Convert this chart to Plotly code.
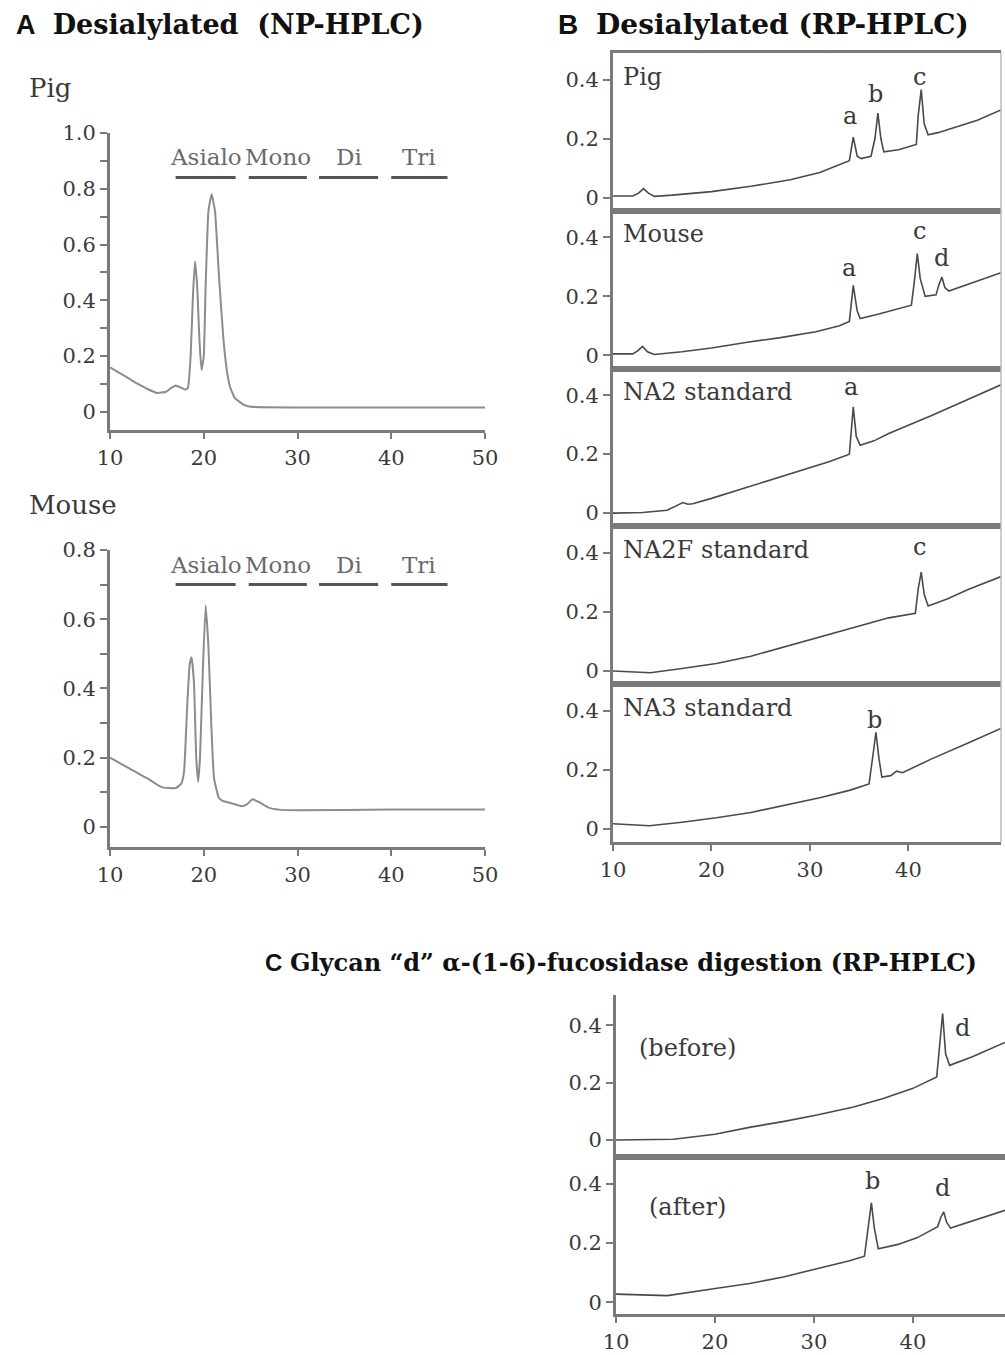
import plotly.graph_objects as go

# ---------------- data ----------------
# Panel A (NP-HPLC), retention time (min) vs absorbance
a_pig_x = [10, 11, 12, 13, 14, 15, 16, 16.5, 17, 17.5, 18, 18.3, 18.6, 18.85, 19.07, 19.3, 19.55, 19.76, 20.0, 20.2, 20.5, 20.84, 21.2, 21.6, 22.1, 22.5, 22.8, 23.3, 24.3, 25, 30, 40, 50]
a_pig_y = [0.16, 0.14, 0.12, 0.10, 0.082, 0.068, 0.072, 0.085, 0.095, 0.088, 0.08, 0.085, 0.2, 0.42, 0.54, 0.45, 0.25, 0.15, 0.2, 0.45, 0.72, 0.78, 0.72, 0.5, 0.26, 0.14, 0.09, 0.05, 0.025, 0.018, 0.016, 0.016, 0.016]

a_mouse_x = [10, 12, 14, 15.5, 17, 17.6, 17.9, 18.2, 18.5, 18.7, 18.95, 19.2, 19.4, 19.6, 19.9, 20.2, 20.5, 20.8, 21.1, 21.6, 22, 23, 24, 24.6, 25.2, 26, 27, 28, 30, 40, 50]
a_mouse_y = [0.2, 0.17, 0.14, 0.115, 0.112, 0.125, 0.16, 0.33, 0.47, 0.49, 0.42, 0.2, 0.13, 0.2, 0.45, 0.64, 0.52, 0.3, 0.14, 0.085, 0.075, 0.068, 0.06, 0.065, 0.08, 0.07, 0.055, 0.05, 0.048, 0.05, 0.05]

a_fraction_labels = ["Asialo", "Mono", "Di", "Tri"]
a_fraction_start = [17.0, 24.8, 32.3, 40.0]
a_fraction_end = [23.4, 31.0, 38.6, 46.0]

a_yticks_pig = [0, 0.2, 0.4, 0.6, 0.8, 1.0]
a_yticktext_pig = ["0", "0.2", "0.4", "0.6", "0.8", "1.0"]
a_yticks_mouse = [0, 0.2, 0.4, 0.6, 0.8]
a_yticktext_mouse = ["0", "0.2", "0.4", "0.6", "0.8"]
a_xticks = [10, 20, 30, 40, 50]

# Panel B (RP-HPLC)
b_pig_x = [10, 12, 12.6, 13.1, 13.6, 14.2, 16, 20, 24, 28, 31, 33, 34.0, 34.4, 34.8, 35.2, 36.2, 36.6, 36.9, 37.2, 37.5, 39, 40.8, 41.0, 41.3, 41.6, 42.0, 43, 45, 47, 49.4]
b_pig_y = [0.005, 0.005, 0.015, 0.03, 0.015, 0.004, 0.008, 0.02, 0.038, 0.06, 0.085, 0.11, 0.125, 0.205, 0.14, 0.132, 0.14, 0.2, 0.286, 0.2, 0.155, 0.162, 0.18, 0.28, 0.366, 0.25, 0.213, 0.22, 0.24, 0.262, 0.297]

b_mouse_x = [10, 12, 12.5, 13.0, 13.5, 14.2, 17, 20, 23.8, 27, 30.6, 33, 34.0, 34.4, 34.8, 35.1, 37, 40.3, 40.6, 40.9, 41.2, 41.7, 42.8, 43.1, 43.4, 43.7, 44.1, 46, 49.4]
b_mouse_y = [0.005, 0.005, 0.015, 0.03, 0.012, 0.003, 0.012, 0.025, 0.045, 0.06, 0.08, 0.1, 0.115, 0.237, 0.15, 0.125, 0.14, 0.17, 0.25, 0.345, 0.26, 0.2, 0.205, 0.24, 0.265, 0.23, 0.218, 0.24, 0.28]

b_na2_x = [10, 13, 15.5, 16.5, 17.1, 17.6, 18.1, 20, 23.8, 29.2, 32, 34.0, 34.2, 34.4, 34.7, 35.1, 36.5, 38, 42.3, 46, 49.4]
b_na2_y = [0.0, 0.002, 0.01, 0.025, 0.036, 0.03, 0.032, 0.05, 0.09, 0.145, 0.175, 0.2, 0.27, 0.36, 0.26, 0.23, 0.245, 0.27, 0.33, 0.385, 0.435]

b_na2f_x = [10, 13.8, 17, 20.5, 24, 27.2, 31, 34, 38, 40.7, 41.0, 41.3, 41.6, 42.0, 44, 46, 49.4]
b_na2f_y = [0.0, -0.006, 0.008, 0.025, 0.05, 0.08, 0.115, 0.145, 0.18, 0.195, 0.28, 0.335, 0.26, 0.22, 0.245, 0.275, 0.32]

b_na3_x = [10, 13.7, 17, 20.5, 24, 27.2, 31, 34, 36.0, 36.4, 36.7, 37.0, 37.3, 38.2, 38.8, 39.4, 42.3, 46, 49.4]
b_na3_y = [0.017, 0.01, 0.022, 0.037, 0.055, 0.077, 0.105, 0.13, 0.152, 0.25, 0.327, 0.24, 0.175, 0.18, 0.195, 0.19, 0.236, 0.29, 0.34]

b_panel_names = ["Pig", "Mouse", "NA2 standard", "NA2F standard", "NA3 standard"]
b_peak_labels = [["a", "b", "c"], ["a", "c", "d"], ["a"], ["c"], ["b"]]
b_peak_x = [[34.1, 36.7, 41.1], [34.0, 41.1, 43.4], [34.2], [41.1], [36.6]]
b_peak_y = [[0.275, 0.35, 0.41], [0.295, 0.42, 0.33], [0.427], [0.42], [0.37]]

# Panel C (fucosidase digestion, RP-HPLC)
c_before_x = [10, 15.8, 20, 23.6, 27, 30.3, 34, 37, 40, 42.4, 42.7, 43.0, 43.3, 43.7, 46, 49.3]
c_before_y = [0.0, 0.003, 0.02, 0.045, 0.065, 0.087, 0.115, 0.145, 0.18, 0.22, 0.33, 0.44, 0.3, 0.26, 0.29, 0.34]

c_after_x = [10, 15.2, 20.2, 23.5, 26.9, 30, 33.6, 35.1, 35.5, 35.8, 36.1, 36.5, 38.5, 40.4, 42.5, 42.8, 43.1, 43.4, 43.8, 46, 49.3]
c_after_y = [0.027, 0.022, 0.047, 0.063, 0.085, 0.11, 0.14, 0.155, 0.26, 0.335, 0.25, 0.18, 0.195, 0.217, 0.255, 0.285, 0.305, 0.27, 0.25, 0.275, 0.31]

c_panel_names = ["(before)", "(after)"]
c_peak_labels = [["d"], ["b", "d"]]
c_peak_x = [[45.0], [35.9, 43.0]]
c_peak_y = [[0.39], [0.41, 0.385]]

b_yticks = [0, 0.2, 0.4]
b_yticktext = ["0", "0.2", "0.4"]
b_xticks = [10, 20, 30, 40]

# ---------------- styling ----------------
W, H = 1005, 1355
SERIF = "DejaVu Serif"
SANS = "Liberation Sans"
AXC = "#7a7a7a"
TXT = "#3a3a3a"
TICKF = dict(family=SERIF, size=21, color=TXT)

def px(x):
    return x / W

def py(y):
    return 1 - y / H

fig = go.Figure()
layout = dict(
    template="none",
    width=W, height=H, margin=dict(l=0, r=0, t=0, b=0, pad=0, autoexpand=False),
    paper_bgcolor="white", plot_bgcolor="white", showlegend=False,
    font=dict(family=SERIF, color=TXT),
)
annotations = []
shapes = []

def add_axes(n, xdom, ydom, xr, yr, xkw, ykw):
    xa = dict(domain=[px(xdom[0]), px(xdom[1])], range=xr, anchor=f"y{n}",
              showgrid=False, zeroline=False, showline=True, linecolor=AXC,
              linewidth=3, tickfont=TICKF, fixedrange=True, automargin=False)
    ya = dict(domain=[py(ydom[1]), py(ydom[0])], range=yr, anchor=f"x{n}",
              showgrid=False, zeroline=False, showline=True, linecolor=AXC,
              linewidth=3, tickfont=TICKF, fixedrange=True, automargin=False)
    xa.update(xkw)
    ya.update(ykw)
    key = "" if n == 1 else str(n)
    layout["xaxis" + key] = xa
    layout["yaxis" + key] = ya

def ref(n):
    return ("x", "y") if n == 1 else (f"x{n}", f"y{n}")

# ----- Panel A -----
a_x_common = dict(tickvals=a_xticks, ticks="outside", ticklen=6, tickwidth=2,
                  tickcolor=AXC, ticklabelstandoff=1)
a_y_minor = dict(dtick=0.1, tick0=0, ticks="outside", ticklen=7, tickwidth=2, tickcolor=AXC)
add_axes(1, (110, 485), (133, 430), [10, 50], [-0.065, 1.0],
         a_x_common,
         dict(tickvals=a_yticks_pig, ticktext=a_yticktext_pig, ticks="outside",
              ticklen=7, tickwidth=2, tickcolor=AXC, minor=a_y_minor))
add_axes(2, (110, 485), (550, 847), [10, 50], [-0.058, 0.8],
         a_x_common,
         dict(tickvals=a_yticks_mouse, ticktext=a_yticktext_mouse, ticks="outside",
              ticklen=7, tickwidth=2, tickcolor=AXC, minor=a_y_minor))

for n, xs, ys in [(1, a_pig_x, a_pig_y), (2, a_mouse_x, a_mouse_y)]:
    xr_, yr_ = ref(n)
    fig.add_trace(go.Scatter(x=xs, y=ys, mode="lines", xaxis=xr_, yaxis=yr_,
                             line=dict(color="#8c8c8c", width=2, shape="spline", smoothing=0.4),
                             hoverinfo="skip"))

for n, bar_y, lab_y in [(1, 0.84, 0.915), (2, 0.70, 0.757)]:
    xr_, yr_ = ref(n)
    for lab, s, e in zip(a_fraction_labels, a_fraction_start, a_fraction_end):
        shapes.append(dict(type="line", xref=xr_, yref=yr_, x0=s, x1=e,
                           y0=bar_y, y1=bar_y, line=dict(color="#555555", width=3)))
        annotations.append(dict(text=lab, xref=xr_, yref=yr_, x=(s + e) / 2, y=lab_y,
                                showarrow=False, font=dict(family=SERIF, size=23, color="#6a6a6a")))

annotations.append(dict(text="Pig", xref="paper", yref="paper", x=px(27), y=py(88),
                        xanchor="left", yanchor="middle", showarrow=False,
                        font=dict(family=SERIF, size=26, color=TXT)))
annotations.append(dict(text="Mouse", xref="paper", yref="paper", x=px(27), y=py(505),
                        xanchor="left", yanchor="middle", showarrow=False,
                        font=dict(family=SERIF, size=26, color=TXT)))

# ----- Panel B -----
b_curves = [(b_pig_x, b_pig_y), (b_mouse_x, b_mouse_y), (b_na2_x, b_na2_y),
            (b_na2f_x, b_na2f_y), (b_na3_x, b_na3_y)]
b_top, b_bot = 53, 842
b_h = (b_bot - b_top) / 5
for i, (xs, ys) in enumerate(b_curves):
    n = 3 + i
    y0 = b_top + i * b_h
    y1 = y0 + b_h
    last = (i == 4)
    xkw = dict(mirror=True, tickvals=b_xticks,
               ticks="outside" if last else "", ticklen=6, tickwidth=2, tickcolor=AXC,
               showticklabels=last, ticklabelstandoff=1)
    ykw = dict(tickvals=b_yticks, ticktext=b_yticktext, ticks="outside", ticklen=7,
               tickwidth=2, tickcolor=AXC)
    add_axes(n, (613, 1001), (y0, y1), [10, 49.4], [-0.045, 0.49], xkw, ykw)
    xr_, yr_ = ref(n)
    fig.add_trace(go.Scatter(x=xs, y=ys, mode="lines", xaxis=xr_, yaxis=yr_,
                             line=dict(color="#4a4a4a", width=1.6), hoverinfo="skip"))
    annotations.append(dict(text=b_panel_names[i], xref=f"x{n} domain", yref=yr_,
                            x=0.02, y=0.41, xanchor="left", yanchor="middle",
                            showarrow=False, font=dict(family=SERIF, size=24, color=TXT)))
    for lab, lx, ly in zip(b_peak_labels[i], b_peak_x[i], b_peak_y[i]):
        annotations.append(dict(text=lab, xref=xr_, yref=yr_, x=lx, y=ly,
                                showarrow=False, font=dict(family=SERIF, size=24, color=TXT)))
    shapes.append(dict(type="line", xref=f"x{n} domain", yref=f"y{n} domain",
                       x0=1, x1=1, y0=0, y1=1, line=dict(color="#bbbbbb", width=1.5)))

# ----- Panel C -----
c_curves = [(c_before_x, c_before_y), (c_after_x, c_after_y)]
c_dom = [(995, 1157), (1157, 1314)]
c_yr = [[-0.059, 0.505], [-0.04, 0.49]]
for i, (xs, ys) in enumerate(c_curves):
    n = 8 + i
    last = (i == 1)
    xkw = dict(mirror=last, tickvals=b_xticks,
               ticks="outside" if last else "", ticklen=6, tickwidth=2, tickcolor=AXC,
               showticklabels=last, ticklabelstandoff=1)
    ykw = dict(tickvals=b_yticks, ticktext=b_yticktext, ticks="outside", ticklen=7,
               tickwidth=2, tickcolor=AXC)
    add_axes(n, (616, 1005), c_dom[i], [10, 49.3], c_yr[i], xkw, ykw)
    xr_, yr_ = ref(n)
    fig.add_trace(go.Scatter(x=xs, y=ys, mode="lines", xaxis=xr_, yaxis=yr_,
                             line=dict(color="#4a4a4a", width=1.6), hoverinfo="skip"))
    annotations.append(dict(text=c_panel_names[i], xref=xr_, yref=yr_,
                            x=17.2, y=0.32, showarrow=False,
                            font=dict(family=SERIF, size=24, color=TXT)))
    for lab, lx, ly in zip(c_peak_labels[i], c_peak_x[i], c_peak_y[i]):
        annotations.append(dict(text=lab, xref=xr_, yref=yr_, x=lx, y=ly,
                                showarrow=False, font=dict(family=SERIF, size=24, color=TXT)))

# ----- Titles -----
def title(letter, rest, x, y, anchor="left", size=27, gap="  "):
    annotations.append(dict(
        text=f"<span style='font-family:{SANS}'><b>{letter}</b></span>{gap}<b>{rest}</b>",
        xref="paper", yref="paper", x=px(x), y=py(y), xanchor=anchor, yanchor="middle",
        showarrow=False, font=dict(family=SERIF, size=size, color="#111111")))

title("A", "Desialylated  (NP-HPLC)", 14, 25)
title("B", "Desialylated (RP-HPLC)", 556, 25, size=28)
title("C", "Glycan \u201cd\u201d \u03b1-(1-6)-fucosidase digestion (RP-HPLC)", 979, 962,
      anchor="right", size=24, gap=" ")

layout["annotations"] = annotations
layout["shapes"] = shapes
fig.update_layout(**layout)
fig.write_html(
    "out.html",
    config={"displayModeBar": False, "staticPlot": True},
    post_script="document.body.style.margin='0';document.body.style.padding='0';"
                "document.body.style.overflow='hidden';",
)
